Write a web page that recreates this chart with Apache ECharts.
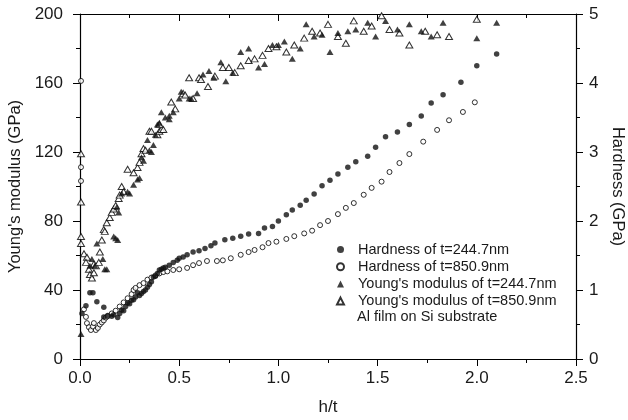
<!DOCTYPE html>
<html><head><meta charset="utf-8">
<script src="https://cdn.jsdelivr.net/npm/echarts@6/dist/echarts.min.js"></script>
<style>html,body{margin:0;padding:0;background:#fff}#c{width:628px;height:420px}</style>
</head><body><div id="c"></div>
<script>
var seriesNames = ["Hardness of t=244.7nm","Hardness of t=850.9nm","Young's modulus of t=244.7nm","Young's modulus of t=850.9nm"];
var noteText = "Al film on Si substrate";
var hardness244 = [[0.01,0.66],[0.03,0.77],[0.05,0.96],[0.065,0.96],[0.085,0.83],[0.12,0.75],[0.12,0.61],[0.14,0.63],[0.16,0.62],[0.17,0.64],[0.19,0.6],[0.2,0.66],[0.21,0.71],[0.22,0.7],[0.23,0.76],[0.24,0.81],[0.25,0.8],[0.26,0.85],[0.27,0.86],[0.28,0.9],[0.29,0.96],[0.3,0.92],[0.31,0.95],[0.32,0.98],[0.33,1.0],[0.34,1.04],[0.35,1.08],[0.36,1.12],[0.37,1.19],[0.38,1.2],[0.39,1.24],[0.40,1.29],[0.41,1.3],[0.42,1.32],[0.43,1.33],[0.45,1.36],[0.47,1.4],[0.49,1.43],[0.50,1.46],[0.52,1.48],[0.54,1.51],[0.57,1.55],[0.6,1.57],[0.63,1.6],[0.66,1.64],[0.68,1.68],[0.73,1.73],[0.77,1.75],[0.81,1.78],[0.85,1.81],[0.90,1.82],[0.93,1.9],[0.97,1.92],[1.0,2.0],[1.04,2.09],[1.07,2.16],[1.11,2.23],[1.14,2.3],[1.18,2.39],[1.22,2.51],[1.26,2.59],[1.30,2.68],[1.35,2.78],[1.39,2.86],[1.45,2.94],[1.49,3.07],[1.54,3.22],[1.60,3.29],[1.66,3.4],[1.72,3.52],[1.77,3.71],[1.83,3.83],[1.92,4.01],[2.0,4.25],[2.10,4.42]];
var hardness850 = [[0.005,4.03],[0.005,2.78],[0.005,2.58],[0.02,0.72],[0.03,0.61],[0.035,0.52],[0.045,0.46],[0.055,0.42],[0.065,0.47],[0.07,0.52],[0.08,0.42],[0.09,0.45],[0.1,0.5],[0.11,0.53],[0.12,0.56],[0.13,0.6],[0.14,0.62],[0.16,0.66],[0.18,0.7],[0.2,0.76],[0.22,0.82],[0.24,0.88],[0.26,0.94],[0.27,1.0],[0.28,1.03],[0.3,1.07],[0.32,1.1],[0.34,1.15],[0.36,1.18],[0.38,1.21],[0.40,1.24],[0.42,1.26],[0.44,1.27],[0.47,1.29],[0.5,1.3],[0.54,1.32],[0.57,1.36],[0.60,1.39],[0.64,1.42],[0.69,1.42],[0.72,1.43],[0.76,1.46],[0.81,1.51],[0.85,1.55],[0.88,1.58],[0.92,1.62],[0.95,1.68],[0.99,1.7],[1.04,1.74],[1.08,1.78],[1.13,1.82],[1.17,1.86],[1.21,1.94],[1.25,2.0],[1.30,2.1],[1.34,2.19],[1.38,2.26],[1.43,2.38],[1.47,2.48],[1.52,2.57],[1.56,2.71],[1.61,2.84],[1.66,2.97],[1.73,3.15],[1.80,3.32],[1.86,3.46],[1.93,3.58],[1.99,3.72]];
var young244 = [[0.005,14.5],[0.05,54],[0.06,58],[0.075,54],[0.085,67],[0.115,58],[0.125,52],[0.135,52],[0.17,71],[0.18,70],[0.19,69],[0.195,85],[0.185,88],[0.21,96],[0.24,97],[0.25,96],[0.27,101],[0.29,104],[0.30,105],[0.31,117],[0.32,115],[0.34,127],[0.35,121],[0.36,120],[0.37,124],[0.38,130],[0.39,136],[0.40,137],[0.41,143],[0.43,140],[0.45,141],[0.45,139],[0.47,143],[0.50,151],[0.51,155],[0.55,151],[0.56,151],[0.59,154],[0.62,165],[0.65,167],[0.675,163],[0.71,172],[0.735,161],[0.77,166],[0.81,178],[0.85,180],[0.90,169],[0.93,171],[0.97,182],[1.0,182],[1.03,184],[1.07,174],[1.11,180],[1.14,194],[1.18,187],[1.22,188],[1.26,178],[1.30,189],[1.35,190],[1.39,191],[1.45,195],[1.49,187],[1.54,196],[1.60,191],[1.66,194],[1.72,190],[1.77,187],[1.83,195],[2.0,186],[2.10,195]];
var young850 = [[0.005,119],[0.005,91],[0.005,71],[0.005,67],[0.02,61],[0.035,59],[0.03,56],[0.045,52],[0.05,49],[0.06,47],[0.07,50],[0.07,55],[0.08,54],[0.095,56],[0.10,62],[0.11,69],[0.12,75],[0.125,74],[0.135,79],[0.15,82],[0.16,85],[0.17,87],[0.18,89],[0.195,93],[0.20,95],[0.21,100],[0.22,97],[0.24,110],[0.27,108],[0.29,111],[0.30,114],[0.31,119],[0.32,122],[0.33,121],[0.35,132],[0.36,132],[0.39,130],[0.40,132],[0.41,133],[0.42,133],[0.40,136],[0.46,149],[0.48,145],[0.52,154],[0.53,153],[0.55,163],[0.57,151],[0.60,163],[0.61,162],[0.645,158],[0.68,164],[0.72,169],[0.75,169],[0.78,166],[0.81,170],[0.85,173],[0.88,174],[0.92,176],[0.95,180],[0.99,181],[1.04,178],[1.08,182],[1.13,186],[1.17,190],[1.21,189],[1.25,194],[1.30,187],[1.34,183],[1.38,196],[1.43,190],[1.47,193],[1.52,199],[1.56,191],[1.61,189],[1.66,182],[1.74,190],[1.80,188],[1.86,187],[2.0,197]];

var FONT = "'Liberation Sans', Arial, sans-serif";
var TXT = '#1a1a1a';
var axisLine = {show:true, onZero:false, lineStyle:{color:'#000', width:1.2}};
var majorTick = function(inside){return {show:true, inside:inside, length:7, lineStyle:{color:'#000', width:1}};};
var minorTick = {show:true, splitNumber:2, length:4, lineStyle:{color:'#000', width:1}};
var chart = echarts.init(document.getElementById('c'), null, {renderer:'canvas'});
function hollow(size, sym){return {type:'scatter', symbol:sym, symbolSize:size, itemStyle:{color:'#fff', borderColor:'#000', borderWidth:1}};}
var option = {
  animation:false,
  backgroundColor:'#fff',
  grid:{left:80, right:52, top:14, bottom:61, containLabel:false, outerBoundsMode:'none'},
  legend:{
    orient:'vertical', left:331, top:237, itemWidth:7, itemHeight:7, itemGap:2.2,
    textStyle:{fontFamily:FONT, fontSize:14.5, color:TXT, padding:[0,0,0,9]},
    data:seriesNames
  },
  graphic:[{type:'text', left:357, top:309, style:{text:noteText, font:"14.5px 'Liberation Sans', Arial, sans-serif", fill:TXT}}],
  xAxis:[{
    type:'value', min:0, max:2.5, interval:0.5, position:'bottom',
    name:'h/t', nameLocation:'middle', nameGap:40,
    nameTextStyle:{fontFamily:FONT, fontSize:17, color:TXT},
    axisLine:axisLine, axisTick:majorTick(false), minorTick:minorTick,
    axisLabel:{fontFamily:FONT, fontSize:17, color:TXT, margin:11, formatter:function(v){return v.toFixed(1);}},
    splitLine:{show:false}
  },{
    type:'value', min:0, max:2.5, interval:0.5, position:'top',
    axisLine:axisLine, axisTick:majorTick(true), minorTick:minorTick,
    axisLabel:{show:false}, splitLine:{show:false}
  }],
  yAxis:[{
    type:'value', min:0, max:200, interval:40, position:'left',
    name:"Young's modulus (GPa)", nameLocation:'middle', nameGap:52, nameRotate:90,
    nameTextStyle:{fontFamily:FONT, fontSize:16.5, color:TXT},
    axisLine:axisLine, axisTick:majorTick(false), minorTick:minorTick,
    axisLabel:{fontFamily:FONT, fontSize:17, color:TXT, margin:17},
    splitLine:{show:false}
  },{
    type:'value', min:0, max:5, interval:1, position:'right',
    name:'Hardness (GPa)', nameLocation:'middle', nameGap:28, nameRotate:-90,
    nameTextStyle:{fontFamily:FONT, fontSize:16.5, color:TXT},
    axisLine:axisLine, axisTick:majorTick(false), minorTick:minorTick,
    axisLabel:{fontFamily:FONT, fontSize:17, color:TXT, margin:13},
    splitLine:{show:false}
  }],
  series:[
    {name:seriesNames[0], type:'scatter', yAxisIndex:1, symbol:'circle', symbolSize:5.5, itemStyle:{color:'#111'}, data:hardness244, z:3},
    Object.assign(hollow(5,'circle'), {name:seriesNames[1], yAxisIndex:1, data:hardness850, z:2}),
    {name:seriesNames[2], type:'scatter', yAxisIndex:0, symbol:'triangle', symbolSize:[7,6], itemStyle:{color:'#111'}, data:young244, z:3},
    Object.assign(hollow([7,6],'triangle'), {name:seriesNames[3], yAxisIndex:0, data:young850, z:2})
  ]
};
chart.setOption(option);
</script></body></html>
